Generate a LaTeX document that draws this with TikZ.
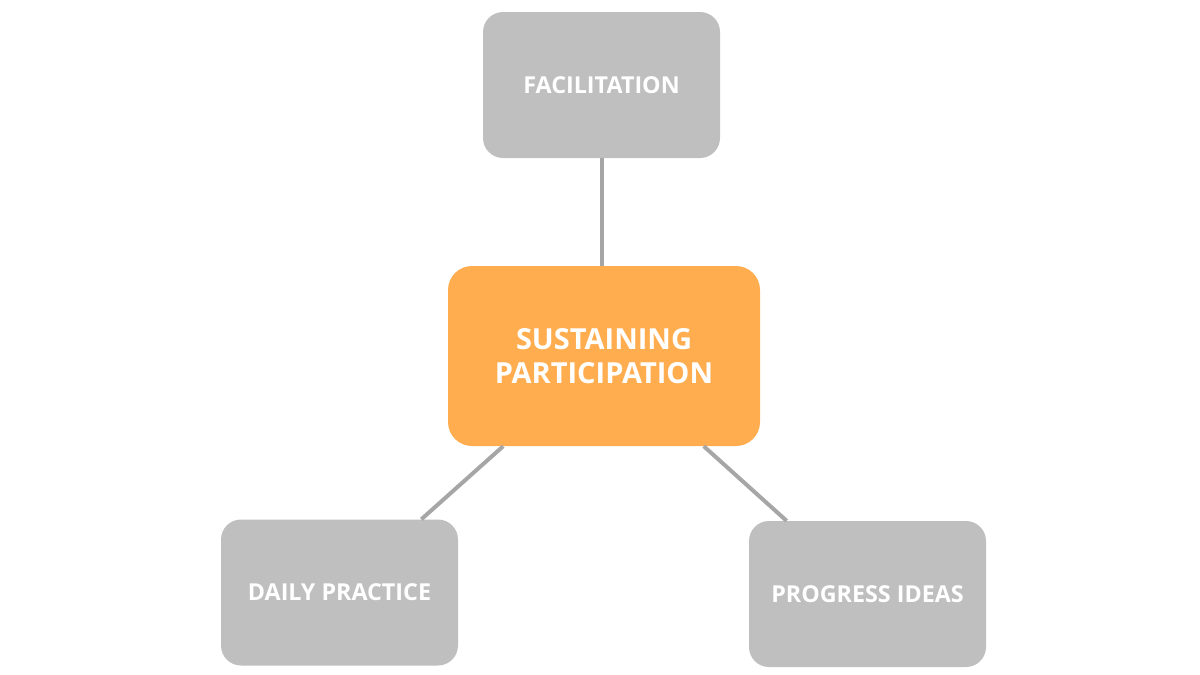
\documentclass[tikz,border=0pt]{standalone}
\usepackage{fontspec}
\setmainfont{Open Sans}
\definecolor{boxgray}{HTML}{BFBFBF}
\definecolor{boxorange}{HTML}{FFAD4F}
\definecolor{linegray}{HTML}{A6A6A6}
\begin{document}
\begin{tikzpicture}[x=1pt,y=-1pt,
  graybox/.style={fill=boxgray, rounded corners=20pt, minimum width=237pt, minimum height=146pt, inner sep=0pt, text=white, font=\fontsize{23.3}{27}\selectfont\bfseries, align=center},
  mainbox/.style={fill=boxorange, rounded corners=24pt, minimum width=312pt, minimum height=180pt, inner sep=0pt, text=white, font=\fontsize{29}{34}\selectfont\bfseries, align=center},
  link/.style={draw=linegray, line width=4pt}]
\useasboundingbox (0,0) rectangle (1200,675);
\node[mainbox] (c) at (604,356) {SUSTAINING\\PARTICIPATION};
\node[graybox] (f) at (601.5,85) {FACILITATION};
\node[graybox] (d) at (339.5,592.5) {DAILY PRACTICE};
\node[graybox] (p) at (867.5,594) {PROGRESS IDEAS};
\draw[link] (f.south) -- (c.north -| f.south);
\draw[link] (c) -- (d);
\draw[link] (c) -- (p);
\end{tikzpicture}
\end{document}
